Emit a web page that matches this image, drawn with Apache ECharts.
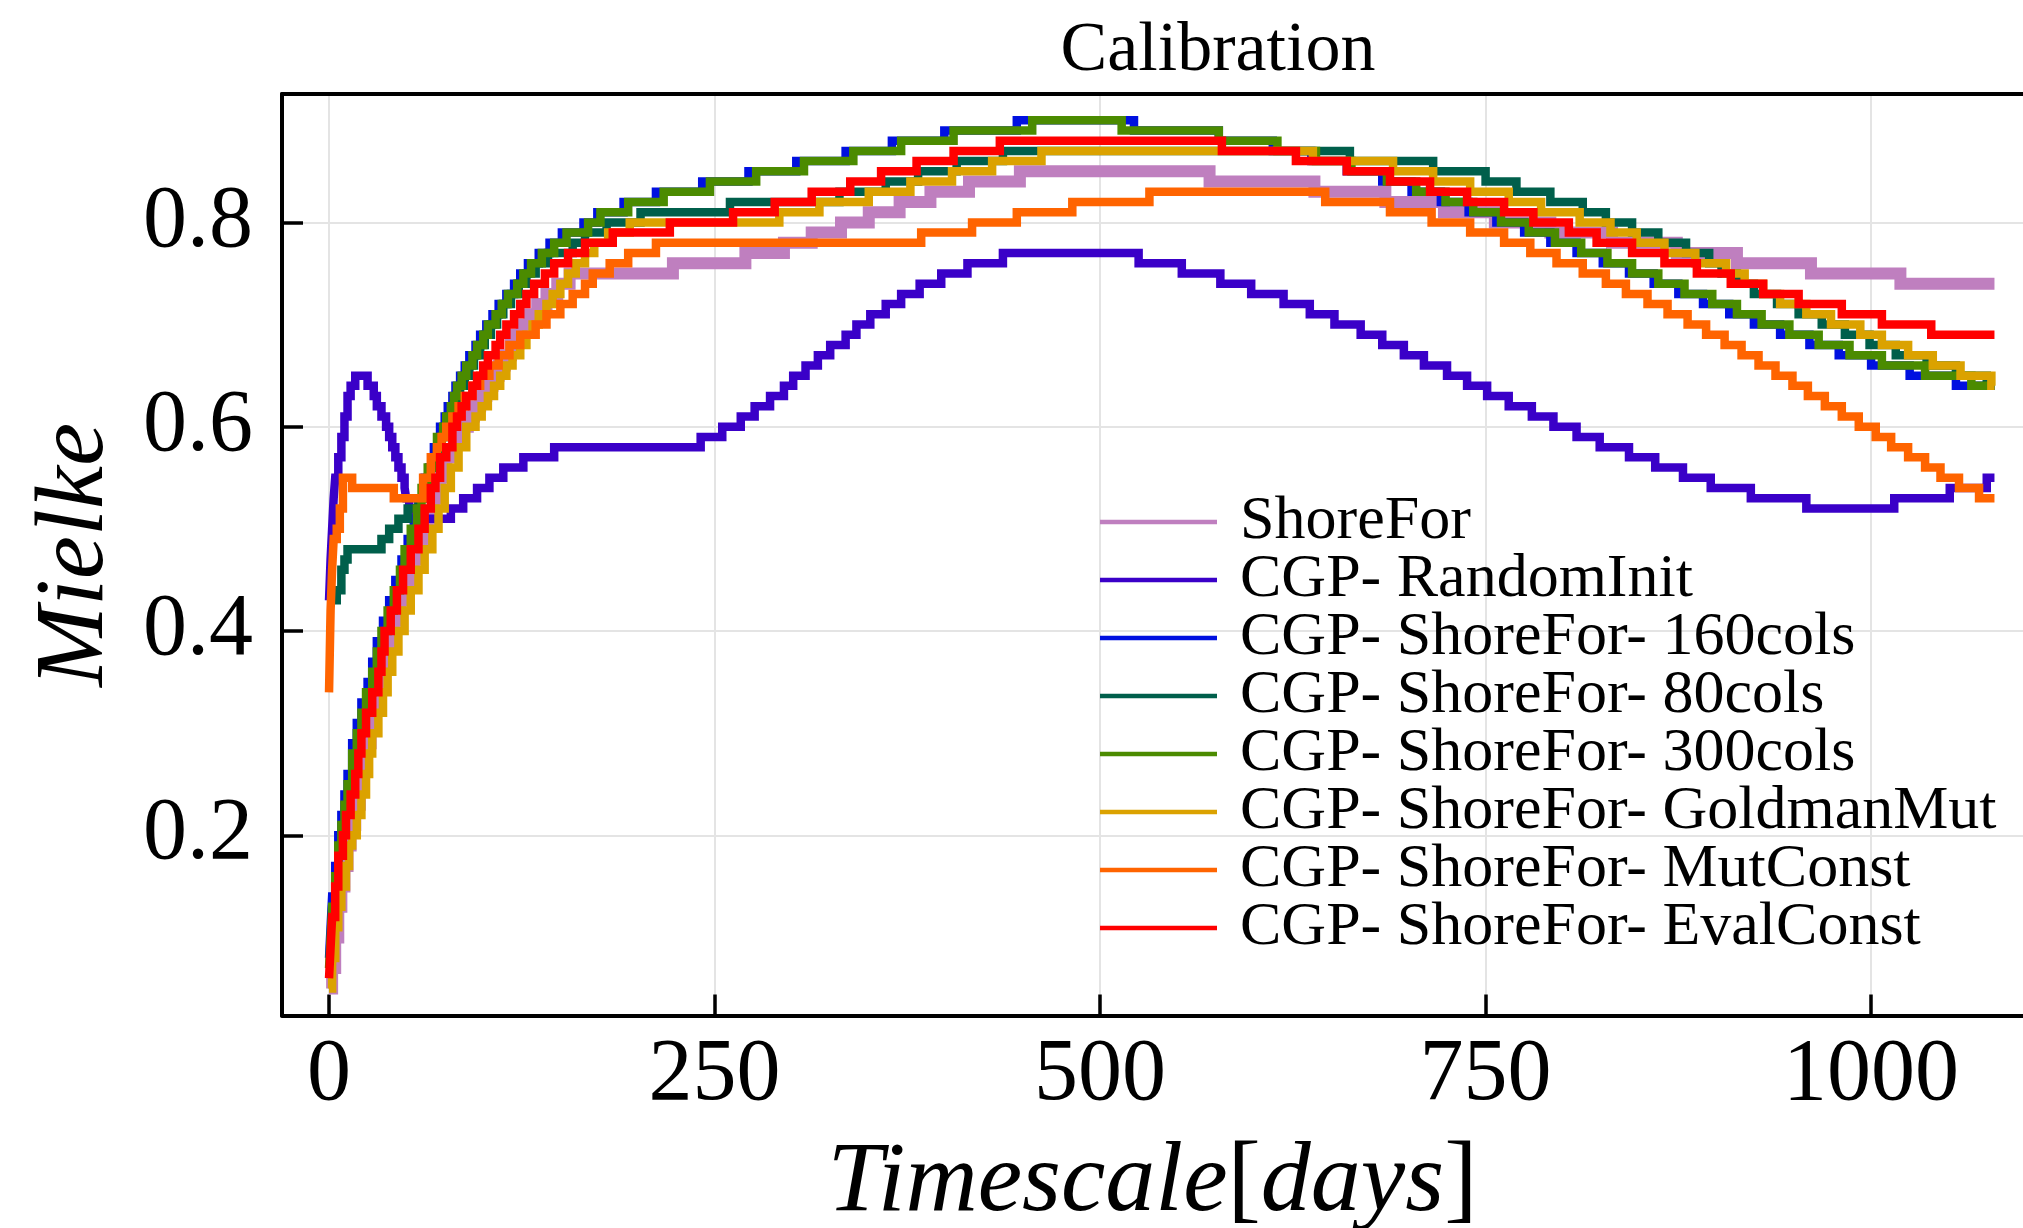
<!DOCTYPE html>
<html><head><meta charset="utf-8">
<script src="https://cdn.jsdelivr.net/npm/echarts@6/dist/echarts.min.js"></script>
<style>html,body{margin:0;padding:0;background:#fff}#c{width:2023px;height:1228px}</style>
</head><body><div id="c"></div>
<script>
// ---- data (day, Mielke) step points ----
const xTicks = [0, 250, 500, 750, 1000];
const yTicks = [0.2, 0.4, 0.6, 0.8];
const seriesNames = ['ShoreFor', 'CGP- RandomInit', 'CGP- ShoreFor- 160cols', 'CGP- ShoreFor- 80cols',
  'CGP- ShoreFor- 300cols', 'CGP- ShoreFor- GoldmanMut', 'CGP- ShoreFor- MutConst', 'CGP- ShoreFor- EvalConst'];
const seriesColors = ['#bf7fbf', '#3a00c8', '#0010e0', '#005f4b', '#4b8b00', '#dba200', '#ff6400', '#ff0000'];

const shoreFor = [[0,0.05],[2,0.07],[4,0.10],[6,0.13],[8,0.15],[10,0.17],[12,0.19],[14,0.21],[17,0.23],[20,0.25],[22,0.27],[24,0.29],[27,0.31],[30,0.33],[33,0.35],[36,0.37],[39,0.39],[42,0.41],[46,0.43],[50,0.45],[55,0.47],[60,0.49],[64,0.51],[68,0.53],[72,0.55],[76,0.57],[81,0.59],[86,0.60],[90,0.61],[94,0.62],[98,0.63],[102,0.64],[106,0.65],[110,0.66],[114,0.67],[118,0.68],[121,0.69],[125,0.70],[130,0.71],[135,0.72],[141,0.73],[148,0.74],[156,0.75],[223,0.76],[270,0.77],[295,0.78],[313,0.79],[332,0.80],[350,0.81],[370,0.82],[390,0.83],[415,0.84],[448,0.85],[571,0.84],[639,0.83],[685,0.82],[723,0.81],[756,0.80],[792,0.79],[832,0.78],[874,0.77],[913,0.76],[961,0.75],[1019,0.74],[1080,0.74]];

const randomInit = [[0,0.43],[1,0.47],[2,0.50],[3,0.53],[4,0.55],[6,0.57],[8,0.59],[10,0.61],[12,0.63],[14,0.64],[17,0.65],[25,0.64],[29,0.63],[31,0.62],[34,0.61],[37,0.60],[39,0.59],[41,0.58],[43,0.57],[45,0.56],[47,0.55],[49,0.54],[50,0.53],[52,0.52],[56,0.51],[79,0.52],[87,0.53],[96,0.54],[104,0.55],[113,0.56],[126,0.57],[146,0.58],[241,0.59],[255,0.60],[267,0.61],[276,0.62],[286,0.63],[295,0.64],[301,0.65],[309,0.66],[317,0.67],[325,0.68],[335,0.69],[342,0.70],[351,0.71],[361,0.72],[371,0.73],[383,0.74],[397,0.75],[414,0.76],[437,0.77],[525,0.76],[553,0.75],[578,0.74],[598,0.73],[619,0.72],[636,0.71],[652,0.70],[669,0.69],[683,0.68],[697,0.67],[710,0.66],[725,0.65],[738,0.64],[751,0.63],[765,0.62],[780,0.61],[794,0.60],[809,0.59],[824,0.58],[843,0.57],[860,0.56],[878,0.55],[896,0.54],[922,0.53],[958,0.52],[1015,0.53],[1051,0.54],[1075,0.55],[1080,0.55]];

const cols160 = [[0,0.08],[1,0.11],[2,0.14],[4,0.17],[6,0.20],[8,0.22],[10,0.24],[12,0.26],[15,0.29],[18,0.31],[21,0.33],[25,0.35],[28,0.37],[31,0.39],[35,0.41],[39,0.43],[43,0.45],[47,0.47],[51,0.49],[55,0.51],[58,0.53],[62,0.55],[65,0.56],[68,0.58],[72,0.60],[75,0.61],[77,0.62],[80,0.63],[82,0.64],[85,0.65],[88,0.66],[91,0.67],[95,0.68],[98,0.69],[102,0.70],[106,0.71],[110,0.72],[115,0.73],[120,0.74],[124,0.75],[129,0.76],[136,0.77],[143,0.78],[151,0.79],[165,0.80],[174,0.81],[191,0.82],[212,0.83],[242,0.84],[272,0.85],[303,0.86],[335,0.87],[365,0.88],[399,0.89],[446,0.90],[522,0.89],[577,0.88],[612,0.87],[637,0.86],[660,0.85],[683,0.84],[702,0.83],[721,0.82],[739,0.81],[757,0.80],[775,0.79],[792,0.78],[809,0.77],[826,0.76],[843,0.75],[859,0.74],[875,0.73],[891,0.72],[908,0.71],[924,0.70],[941,0.69],[960,0.68],[979,0.67],[1000,0.66],[1025,0.65],[1055,0.64],[1080,0.64]];

const cols80 = [[0,0.43],[5,0.44],[8,0.46],[10,0.47],[12,0.48],[34,0.49],[39,0.50],[45,0.51],[51,0.52],[58,0.53],[61,0.54],[64,0.55],[66,0.56],[69,0.57],[71,0.58],[73,0.59],[75,0.60],[78,0.61],[80,0.62],[83,0.63],[85,0.64],[88,0.65],[91,0.66],[94,0.67],[98,0.68],[101,0.69],[105,0.70],[109,0.71],[113,0.72],[118,0.73],[123,0.74],[128,0.75],[134,0.76],[142,0.77],[158,0.78],[166,0.79],[180,0.80],[202,0.81],[260,0.82],[331,0.83],[361,0.84],[382,0.85],[407,0.86],[437,0.87],[662,0.86],[716,0.85],[750,0.84],[770,0.83],[792,0.82],[813,0.81],[828,0.80],[845,0.79],[862,0.78],[880,0.77],[895,0.76],[903,0.75],[913,0.74],[924,0.73],[939,0.72],[953,0.71],[968,0.70],[983,0.69],[999,0.68],[1016,0.67],[1036,0.66],[1055,0.65],[1075,0.64],[1080,0.64]];

const cols300 = [[0,0.07],[1,0.10],[2,0.13],[4,0.16],[6,0.19],[8,0.21],[10,0.23],[12,0.25],[15,0.28],[18,0.30],[21,0.32],[24,0.34],[28,0.36],[31,0.38],[34,0.40],[38,0.42],[42,0.44],[46,0.46],[49,0.48],[53,0.50],[57,0.52],[60,0.54],[64,0.56],[67,0.57],[70,0.59],[74,0.60],[76,0.61],[79,0.62],[81,0.63],[83,0.64],[86,0.65],[89,0.66],[93,0.67],[96,0.68],[100,0.69],[103,0.70],[108,0.71],[112,0.72],[116,0.73],[122,0.74],[126,0.75],[131,0.76],[138,0.77],[146,0.78],[154,0.79],[168,0.80],[176,0.81],[194,0.82],[217,0.83],[247,0.84],[277,0.85],[308,0.86],[340,0.87],[371,0.88],[405,0.89],[456,0.90],[514,0.89],[577,0.88],[615,0.87],[640,0.86],[663,0.85],[686,0.84],[705,0.83],[724,0.82],[742,0.81],[760,0.80],[778,0.79],[795,0.78],[812,0.77],[829,0.76],[845,0.75],[862,0.74],[879,0.73],[897,0.72],[913,0.71],[929,0.70],[947,0.69],[966,0.68],[986,0.67],[1007,0.66],[1035,0.65],[1065,0.64],[1080,0.64]];

const goldmanMut = [[0,0.05],[2,0.08],[4,0.11],[6,0.13],[8,0.15],[11,0.17],[13,0.19],[15,0.20],[18,0.22],[21,0.24],[24,0.26],[26,0.28],[28,0.30],[32,0.32],[35,0.34],[38,0.36],[41,0.38],[45,0.40],[49,0.42],[53,0.44],[58,0.46],[62,0.48],[67,0.50],[71,0.52],[75,0.54],[79,0.56],[84,0.58],[89,0.60],[95,0.61],[99,0.62],[103,0.63],[107,0.64],[111,0.65],[115,0.66],[119,0.67],[124,0.68],[128,0.69],[132,0.70],[136,0.71],[141,0.72],[145,0.73],[150,0.74],[155,0.75],[160,0.76],[166,0.77],[172,0.78],[181,0.79],[195,0.80],[292,0.81],[318,0.82],[350,0.83],[377,0.84],[404,0.85],[430,0.86],[462,0.87],[638,0.86],[690,0.85],[716,0.84],[740,0.83],[765,0.82],[786,0.81],[811,0.80],[831,0.79],[848,0.78],[866,0.77],[886,0.76],[906,0.75],[918,0.74],[930,0.73],[941,0.72],[958,0.71],[974,0.70],[993,0.69],[1007,0.68],[1024,0.67],[1040,0.66],[1058,0.65],[1078,0.64],[1080,0.64]];

const mutConst = [[0,0.34],[1,0.42],[2,0.46],[3,0.49],[5,0.50],[7,0.52],[9,0.55],[15,0.54],[42,0.53],[61,0.55],[66,0.57],[70,0.58],[73,0.59],[76,0.60],[80,0.61],[84,0.62],[88,0.63],[93,0.64],[98,0.65],[104,0.66],[110,0.67],[117,0.68],[124,0.69],[134,0.70],[141,0.71],[150,0.72],[158,0.73],[166,0.74],[171,0.75],[182,0.76],[194,0.77],[212,0.78],[384,0.79],[417,0.80],[446,0.81],[482,0.82],[532,0.83],[646,0.82],[688,0.81],[715,0.80],[740,0.79],[762,0.78],[779,0.77],[796,0.76],[813,0.75],[828,0.74],[841,0.73],[855,0.72],[868,0.71],[881,0.70],[893,0.69],[905,0.68],[916,0.67],[927,0.66],[938,0.65],[949,0.64],[959,0.63],[970,0.62],[981,0.61],[992,0.60],[1003,0.59],[1013,0.58],[1024,0.57],[1035,0.56],[1045,0.55],[1057,0.54],[1070,0.53],[1080,0.53]];

const evalConst = [[0,0.06],[1,0.09],[2,0.12],[4,0.15],[6,0.18],[9,0.20],[11,0.22],[14,0.24],[17,0.26],[19,0.28],[21,0.30],[24,0.32],[28,0.34],[32,0.36],[34,0.38],[36,0.40],[40,0.42],[44,0.44],[48,0.46],[53,0.48],[58,0.50],[62,0.52],[66,0.54],[69,0.55],[72,0.57],[76,0.58],[80,0.60],[83,0.61],[86,0.62],[89,0.63],[93,0.64],[96,0.65],[100,0.66],[103,0.67],[108,0.68],[111,0.69],[115,0.70],[120,0.71],[124,0.72],[128,0.73],[133,0.74],[140,0.75],[146,0.76],[155,0.77],[166,0.78],[184,0.79],[221,0.80],[262,0.81],[289,0.82],[313,0.83],[338,0.84],[358,0.85],[381,0.86],[405,0.87],[435,0.88],[579,0.87],[627,0.86],[660,0.85],[688,0.84],[714,0.83],[738,0.82],[762,0.81],[781,0.80],[804,0.79],[822,0.78],[845,0.77],[866,0.76],[887,0.75],[909,0.74],[930,0.73],[953,0.72],[981,0.71],[1007,0.70],[1039,0.69],[1080,0.69]];

const seriesData = [shoreFor, randomInit, cols160, cols80, cols300, goldmanMut, mutConst, evalConst];
const seriesWidths = [12, 8.5, 8.5, 8.5, 8.5, 8.5, 8.5, 8.5];

// ---- chart ----
const FONT = "'Liberation Serif', 'Times New Roman', serif";
const chart = echarts.init(document.getElementById('c'), null, {renderer: 'canvas'});
const xRange = {min: -30.5, max: 1098.5};
const yRange = {min: 0.0236, max: 0.9257};

chart.setOption({
  animation: false,
  backgroundColor: '#ffffff',
  title: {
    text: 'Calibration',
    left: 1213, top: 12, textAlign: 'center',
    textStyle: {fontFamily: FONT, fontWeight: 'normal', fontSize: 70, color: '#000'}
  },
  grid: {left: 282, top: 94, right: 0, bottom: 212.5, containLabel: false, outerBoundsMode: 'none'},
  legend: {
    orient: 'vertical', left: 1100, top: 491, padding: 0, itemGap: -4,
    icon: 'rect', itemWidth: 117, itemHeight: 4.5, selectedMode: false,
    data: seriesNames,
    textStyle: {fontFamily: FONT, fontSize: 62, color: '#000', padding: [0, 0, 0, 18]}
  },
  xAxis: [{
    type: 'value', min: xRange.min, max: xRange.max, position: 'bottom',
    name: '{i|Timescale}{u|[}{i|days}{u|]}', nameLocation: 'middle', nameGap: 118,
    nameTextStyle: {rich: {
      i: {fontFamily: FONT, fontStyle: 'italic', fontSize: 100, color: '#000'},
      u: {fontFamily: FONT, fontSize: 100, color: '#000'}
    }},
    axisLine: {show: true, onZero: false, lineStyle: {color: '#000', width: 4}},
    axisTick: {show: true, inside: true, length: 21, customValues: xTicks, lineStyle: {color: '#000', width: 3.5}},
    axisLabel: {show: true, margin: 16, customValues: xTicks, fontFamily: FONT, fontSize: 88, color: '#000',
      formatter: v => String(v)},
    splitLine: {show: true, lineStyle: {color: '#e4e4e4', width: 2}}
  }, {
    type: 'value', min: xRange.min, max: xRange.max, position: 'top',
    axisLine: {show: true, onZero: false, lineStyle: {color: '#000', width: 4}},
    axisTick: {show: false}, axisLabel: {show: false}, splitLine: {show: false}
  }],
  yAxis: {
    type: 'value', min: yRange.min, max: yRange.max,
    name: 'Mielke', nameLocation: 'middle', nameGap: 157, nameRotate: 90,
    nameTextStyle: {fontFamily: FONT, fontStyle: 'italic', fontSize: 97, color: '#000'},
    axisLine: {show: true, onZero: false, lineStyle: {color: '#000', width: 4}},
    axisTick: {show: true, inside: true, length: 21, customValues: yTicks, lineStyle: {color: '#000', width: 3.5}},
    axisLabel: {show: true, margin: 29, customValues: yTicks, fontFamily: FONT, fontSize: 88, color: '#000',
      formatter: v => v.toFixed(1)},
    splitLine: {show: true, lineStyle: {color: '#e4e4e4', width: 2}}
  },
  series: seriesNames.map((n, i) => ({
    name: n, type: 'line', step: 'end', data: seriesData[i],
    xAxisIndex: 0, yAxisIndex: 0,
    showSymbol: false, symbol: 'none', color: seriesColors[i],
    lineStyle: {color: seriesColors[i], width: seriesWidths[i], join: 'miter', cap: 'butt'},
    emphasis: {disabled: true}, silent: true, z: 2 + i * 0.01
  }))
});
</script>
</body></html>
